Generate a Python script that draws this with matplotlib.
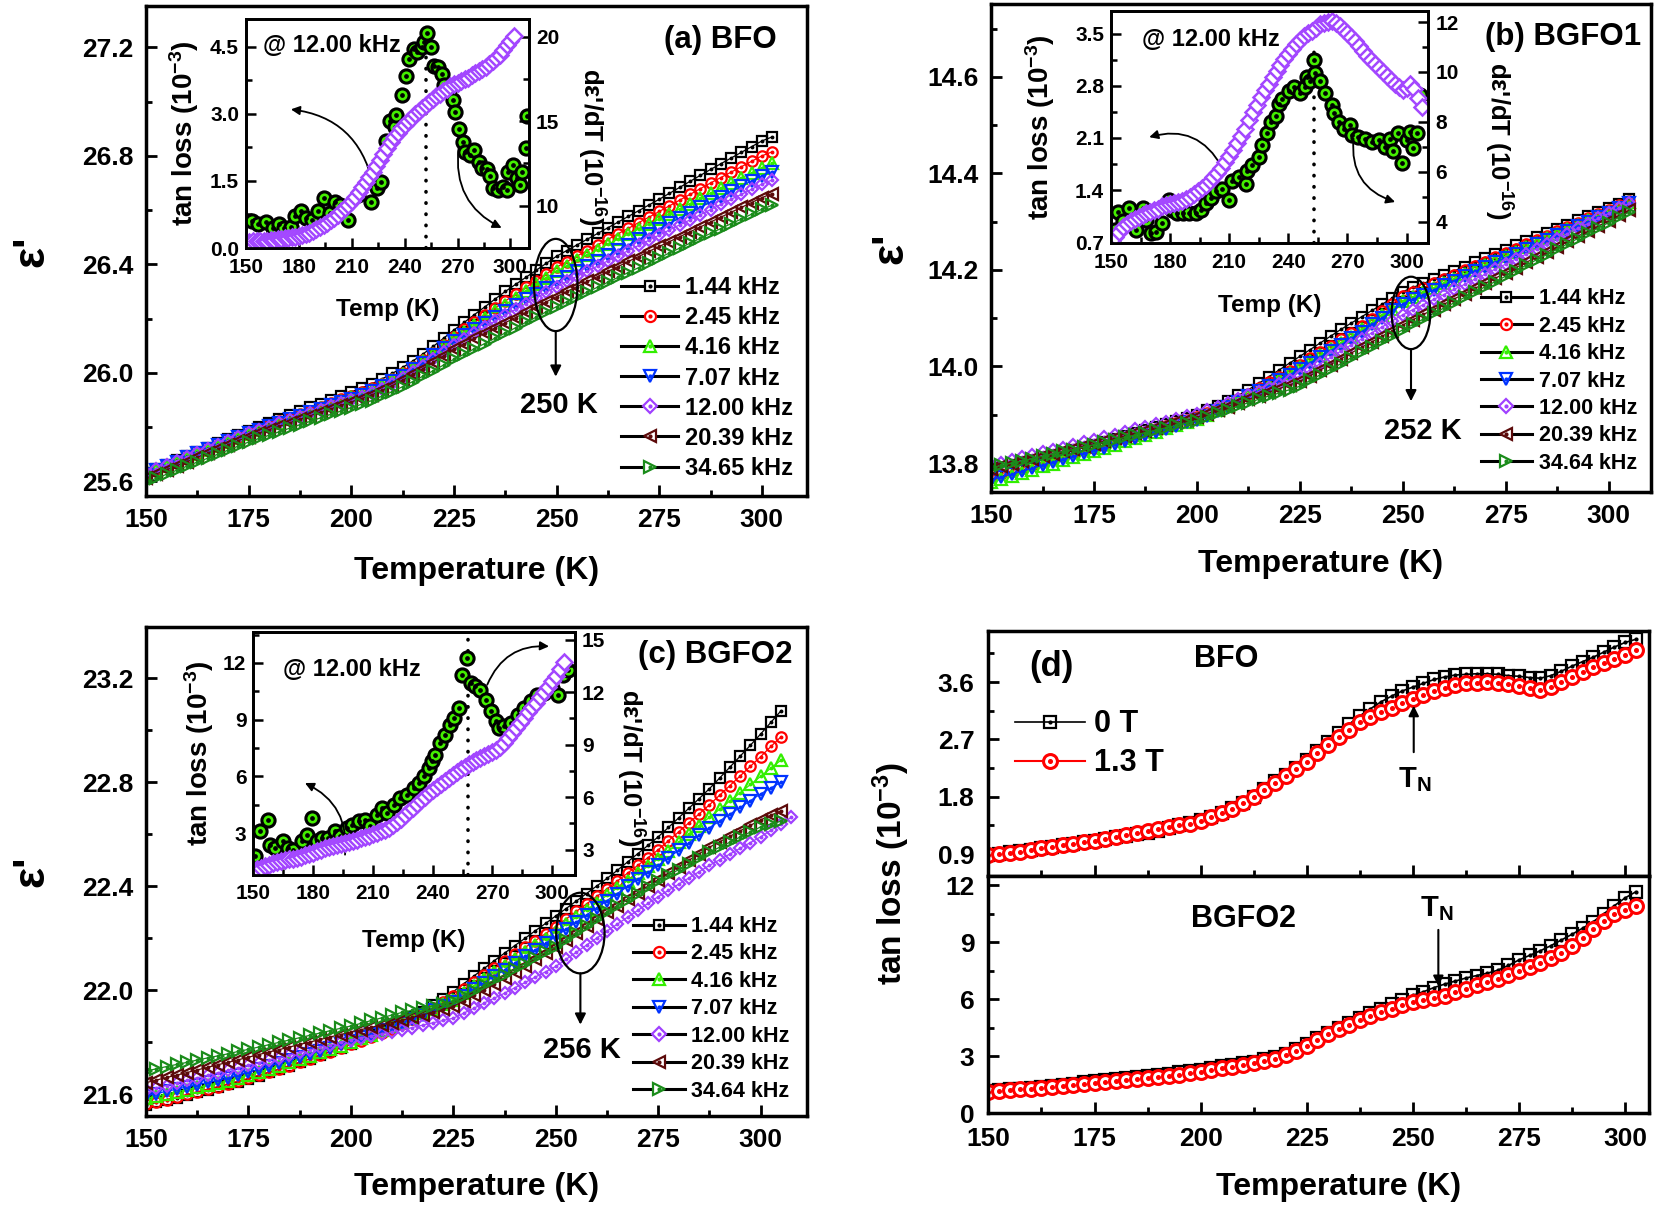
import numpy as np
import matplotlib
matplotlib.use('Agg')
import matplotlib.pyplot as plt
from matplotlib.patches import Ellipse
from matplotlib.lines import Line2D
from matplotlib.ticker import MultipleLocator, FormatStrFormatter

plt.rcParams['font.family'] = ['Liberation Sans', 'DejaVu Sans']
plt.rcParams['font.weight'] = 'bold'
plt.rcParams['axes.labelweight'] = 'bold'
plt.rcParams['mathtext.fontset'] = 'custom'
plt.rcParams['mathtext.rm'] = 'Liberation Sans:bold'
plt.rcParams['mathtext.bf'] = 'Liberation Sans:bold'
plt.rcParams['mathtext.it'] = 'Liberation Sans:bold:italic'
plt.rcParams['mathtext.default'] = 'bf'

# ---------------- data ----------------
labels_a = ['1.44 kHz', '2.45 kHz', '4.16 kHz', '7.07 kHz', '12.00 kHz', '20.39 kHz', '34.65 kHz']
labels_bc = ['1.44 kHz', '2.45 kHz', '4.16 kHz', '7.07 kHz', '12.00 kHz', '20.39 kHz', '34.64 kHz']

temps_a = np.arange(150, 303, 2.5)
temps_b = np.arange(150, 305.1, 2.5)
temps_c = np.arange(150, 305.1, 2.5)
temps_c_12k = np.arange(150, 307.6, 2.5)
temps_d = np.arange(150, 303, 2.5)

# (a) BFO, eps' vs T
eps_a_144 = [25.630, 25.646, 25.662, 25.677, 25.693, 25.709, 25.724, 25.740, 25.756, 25.771,
             25.787, 25.801, 25.816, 25.830, 25.844, 25.859, 25.873, 25.887, 25.901, 25.916,
             25.930, 25.944, 25.960, 25.978, 25.998, 26.020, 26.044, 26.070, 26.098, 26.128,
             26.158, 26.186, 26.215, 26.243, 26.272, 26.300, 26.326, 26.352, 26.378, 26.404,
             26.430, 26.451, 26.472, 26.493, 26.514, 26.535, 26.556, 26.577, 26.598, 26.619,
             26.640, 26.662, 26.684, 26.706, 26.728, 26.750, 26.771, 26.792, 26.813, 26.834,
             26.855, 26.870]
eps_a_245 = [25.628, 25.643, 25.658, 25.674, 25.689, 25.704, 25.719, 25.734, 25.750, 25.765,
             25.780, 25.794, 25.807, 25.821, 25.834, 25.848, 25.861, 25.875, 25.888, 25.902,
             25.915, 25.928, 25.943, 25.960, 25.979, 26.000, 26.023, 26.048, 26.075, 26.104,
             26.134, 26.160, 26.186, 26.213, 26.239, 26.265, 26.290, 26.315, 26.340, 26.365,
             26.390, 26.410, 26.431, 26.451, 26.472, 26.492, 26.513, 26.533, 26.554, 26.574,
             26.595, 26.616, 26.637, 26.658, 26.679, 26.700, 26.720, 26.740, 26.760, 26.780,
             26.800, 26.815]
eps_a_416 = [25.625, 25.640, 25.655, 25.670, 25.685, 25.701, 25.716, 25.731, 25.746, 25.761,
             25.776, 25.789, 25.803, 25.816, 25.830, 25.843, 25.856, 25.870, 25.883, 25.897,
             25.910, 25.923, 25.938, 25.955, 25.974, 25.995, 26.018, 26.043, 26.070, 26.098,
             26.127, 26.152, 26.177, 26.202, 26.227, 26.252, 26.277, 26.301, 26.326, 26.350,
             26.375, 26.395, 26.415, 26.434, 26.454, 26.474, 26.493, 26.511, 26.530, 26.548,
             26.567, 26.586, 26.605, 26.624, 26.643, 26.662, 26.681, 26.700, 26.719, 26.738,
             26.757, 26.772]
eps_a_707 = [25.628, 25.643, 25.658, 25.673, 25.688, 25.703, 25.718, 25.733, 25.748, 25.763,
             25.778, 25.791, 25.803, 25.816, 25.829, 25.842, 25.854, 25.867, 25.880, 25.892,
             25.905, 25.918, 25.933, 25.950, 25.969, 25.990, 26.013, 26.038, 26.064, 26.091,
             26.118, 26.140, 26.162, 26.184, 26.206, 26.228, 26.249, 26.271, 26.292, 26.314,
             26.335, 26.355, 26.374, 26.394, 26.413, 26.433, 26.453, 26.472, 26.492, 26.511,
             26.531, 26.551, 26.571, 26.591, 26.610, 26.630, 26.649, 26.669, 26.688, 26.708,
             26.727, 26.742]
eps_a_1200 = [25.630, 25.645, 25.660, 25.674, 25.689, 25.704, 25.719, 25.734, 25.748, 25.763,
              25.778, 25.790, 25.802, 25.815, 25.827, 25.839, 25.851, 25.863, 25.876, 25.888,
              25.900, 25.912, 25.926, 25.942, 25.960, 25.980, 26.002, 26.026, 26.051, 26.077,
              26.104, 26.126, 26.148, 26.169, 26.191, 26.213, 26.234, 26.255, 26.276, 26.297,
              26.318, 26.337, 26.356, 26.375, 26.394, 26.413, 26.432, 26.451, 26.470, 26.489,
              26.508, 26.527, 26.546, 26.564, 26.583, 26.602, 26.621, 26.640, 26.658, 26.677,
              26.696, 26.711]
eps_a_2039 = [25.612, 25.627, 25.643, 25.658, 25.673, 25.689, 25.704, 25.719, 25.734, 25.750,
              25.765, 25.778, 25.791, 25.803, 25.816, 25.829, 25.842, 25.855, 25.867, 25.880,
              25.893, 25.905, 25.919, 25.935, 25.953, 25.973, 25.994, 26.016, 26.039, 26.063,
              26.088, 26.107, 26.127, 26.146, 26.166, 26.185, 26.204, 26.223, 26.243, 26.262,
              26.281, 26.300, 26.318, 26.337, 26.355, 26.374, 26.392, 26.411, 26.429, 26.448,
              26.466, 26.484, 26.502, 26.520, 26.538, 26.556, 26.574, 26.592, 26.610, 26.628,
              26.646, 26.661]
eps_a_3465 = [25.596, 25.611, 25.626, 25.641, 25.656, 25.671, 25.685, 25.700, 25.715, 25.730,
              25.745, 25.758, 25.770, 25.783, 25.796, 25.809, 25.821, 25.834, 25.847, 25.859,
              25.872, 25.884, 25.898, 25.914, 25.931, 25.949, 25.968, 25.988, 26.008, 26.029,
              26.050, 26.069, 26.089, 26.108, 26.128, 26.147, 26.166, 26.186, 26.205, 26.225,
              26.244, 26.262, 26.280, 26.298, 26.316, 26.334, 26.352, 26.370, 26.388, 26.406,
              26.424, 26.442, 26.460, 26.478, 26.496, 26.514, 26.532, 26.550, 26.567, 26.585,
              26.603, 26.618]

# (b) BGFO1
eps_b_144 = [13.778, 13.784, 13.790, 13.796, 13.802, 13.808, 13.814, 13.820, 13.826, 13.832,
             13.838, 13.844, 13.850, 13.856, 13.862, 13.869, 13.875, 13.881, 13.887, 13.894,
             13.900, 13.909, 13.919, 13.929, 13.940, 13.952, 13.965, 13.979, 13.993, 14.007,
             14.021, 14.035, 14.049, 14.063, 14.077, 14.090, 14.103, 14.116, 14.129, 14.142,
             14.155, 14.164, 14.172, 14.181, 14.189, 14.198, 14.207, 14.216, 14.224, 14.233,
             14.242, 14.251, 14.259, 14.268, 14.276, 14.285, 14.294, 14.303, 14.311, 14.320,
             14.329, 14.337, 14.346]
eps_b_245 = [13.772, 13.778, 13.784, 13.790, 13.796, 13.802, 13.808, 13.814, 13.820, 13.826,
             13.832, 13.838, 13.845, 13.851, 13.857, 13.864, 13.870, 13.876, 13.882, 13.889,
             13.895, 13.903, 13.912, 13.922, 13.932, 13.943, 13.955, 13.967, 13.979, 13.991,
             14.004, 14.017, 14.030, 14.043, 14.056, 14.069, 14.084, 14.099, 14.114, 14.130,
             14.145, 14.154, 14.163, 14.172, 14.181, 14.190, 14.199, 14.208, 14.217, 14.226,
             14.235, 14.244, 14.253, 14.262, 14.271, 14.280, 14.289, 14.298, 14.307, 14.316,
             14.325, 14.334, 14.343]
eps_b_416 = [13.760, 13.767, 13.773, 13.780, 13.786, 13.793, 13.799, 13.806, 13.812, 13.819,
             13.825, 13.832, 13.838, 13.845, 13.852, 13.858, 13.865, 13.872, 13.878, 13.885,
             13.892, 13.900, 13.909, 13.919, 13.929, 13.940, 13.951, 13.962, 13.974, 13.986,
             13.998, 14.011, 14.023, 14.036, 14.049, 14.062, 14.077, 14.091, 14.106, 14.120,
             14.135, 14.144, 14.154, 14.163, 14.173, 14.182, 14.191, 14.200, 14.210, 14.219,
             14.228, 14.237, 14.247, 14.256, 14.266, 14.275, 14.284, 14.293, 14.303, 14.312,
             14.321, 14.331, 14.340]
eps_b_707 = [13.765, 13.771, 13.777, 13.783, 13.789, 13.796, 13.802, 13.808, 13.814, 13.820,
             13.826, 13.832, 13.839, 13.845, 13.852, 13.858, 13.864, 13.871, 13.877, 13.884,
             13.890, 13.898, 13.907, 13.917, 13.927, 13.938, 13.949, 13.960, 13.972, 13.983,
             13.995, 14.008, 14.020, 14.033, 14.045, 14.058, 14.072, 14.087, 14.101, 14.116,
             14.130, 14.140, 14.149, 14.159, 14.168, 14.178, 14.187, 14.197, 14.206, 14.216,
             14.225, 14.234, 14.244, 14.253, 14.263, 14.272, 14.281, 14.291, 14.300, 14.310,
             14.319, 14.329, 14.338]
eps_b_1200 = [13.796, 13.801, 13.806, 13.812, 13.817, 13.822, 13.827, 13.832, 13.838, 13.843,
              13.848, 13.853, 13.859, 13.864, 13.870, 13.875, 13.880, 13.886, 13.891, 13.897,
              13.902, 13.909, 13.917, 13.924, 13.932, 13.940, 13.948, 13.956, 13.964, 13.972,
              13.980, 13.993, 14.006, 14.019, 14.032, 14.045, 14.057, 14.070, 14.082, 14.095,
              14.107, 14.118, 14.128, 14.139, 14.149, 14.160, 14.170, 14.181, 14.191, 14.202,
              14.212, 14.223, 14.233, 14.244, 14.254, 14.265, 14.275, 14.286, 14.296, 14.307,
              14.317, 14.328, 14.338]
eps_b_2039 = [13.788, 13.793, 13.798, 13.804, 13.809, 13.814, 13.819, 13.824, 13.830, 13.835,
              13.840, 13.845, 13.851, 13.856, 13.862, 13.867, 13.873, 13.878, 13.884, 13.889,
              13.895, 13.902, 13.910, 13.917, 13.925, 13.932, 13.939, 13.947, 13.954, 13.962,
              13.969, 13.981, 13.993, 14.004, 14.016, 14.028, 14.040, 14.051, 14.063, 14.074,
              14.086, 14.097, 14.108, 14.118, 14.129, 14.140, 14.151, 14.162, 14.172, 14.183,
              14.194, 14.205, 14.216, 14.226, 14.237, 14.248, 14.259, 14.270, 14.280, 14.291,
              14.302, 14.313, 14.324]
eps_b_3464 = [13.790, 13.795, 13.800, 13.804, 13.809, 13.814, 13.819, 13.824, 13.828, 13.833,
              13.838, 13.843, 13.848, 13.853, 13.858, 13.863, 13.868, 13.873, 13.878, 13.883,
              13.888, 13.895, 13.903, 13.910, 13.918, 13.925, 13.932, 13.939, 13.945, 13.952,
              13.959, 13.971, 13.983, 13.994, 14.006, 14.018, 14.030, 14.041, 14.053, 14.064,
              14.076, 14.087, 14.098, 14.110, 14.121, 14.132, 14.143, 14.154, 14.165, 14.176,
              14.187, 14.198, 14.210, 14.221, 14.232, 14.243, 14.254, 14.265, 14.276, 14.287,
              14.298, 14.309, 14.320]

# (c) BGFO2
eps_c_144 = [21.560, 21.569, 21.578, 21.588, 21.598, 21.608, 21.618, 21.628, 21.639, 21.649,
             21.660, 21.672, 21.685, 21.697, 21.710, 21.723, 21.737, 21.751, 21.765, 21.780,
             21.795, 21.811, 21.827, 21.843, 21.860, 21.878, 21.898, 21.918, 21.942, 21.968,
             21.995, 22.025, 22.055, 22.084, 22.114, 22.143, 22.172, 22.200, 22.229, 22.257,
             22.286, 22.314, 22.343, 22.372, 22.401, 22.430, 22.461, 22.493, 22.525, 22.557,
             22.590, 22.626, 22.663, 22.700, 22.737, 22.775, 22.816, 22.858, 22.900, 22.942,
             22.985, 23.030, 23.075]
eps_c_245 = [21.562, 21.571, 21.580, 21.590, 21.600, 21.610, 21.620, 21.630, 21.641, 21.651,
             21.662, 21.674, 21.686, 21.698, 21.711, 21.724, 21.737, 21.750, 21.764, 21.778,
             21.792, 21.806, 21.821, 21.837, 21.853, 21.870, 21.889, 21.909, 21.931, 21.954,
             21.978, 22.005, 22.031, 22.058, 22.085, 22.111, 22.138, 22.165, 22.191, 22.218,
             22.245, 22.274, 22.303, 22.332, 22.361, 22.390, 22.420, 22.450, 22.480, 22.510,
             22.540, 22.575, 22.609, 22.644, 22.678, 22.713, 22.750, 22.787, 22.824, 22.861,
             22.898, 22.937, 22.975]
eps_c_416 = [21.585, 21.593, 21.601, 21.610, 21.618, 21.627, 21.635, 21.644, 21.652, 21.664,
             21.675, 21.686, 21.698, 21.710, 21.723, 21.735, 21.748, 21.761, 21.774, 21.787,
             21.800, 21.815, 21.830, 21.846, 21.862, 21.878, 21.895, 21.911, 21.928, 21.946,
             21.964, 21.990, 22.016, 22.042, 22.069, 22.095, 22.121, 22.147, 22.173, 22.199,
             22.225, 22.253, 22.281, 22.309, 22.337, 22.365, 22.393, 22.421, 22.449, 22.477,
             22.505, 22.537, 22.569, 22.601, 22.633, 22.665, 22.696, 22.728, 22.759, 22.791,
             22.822, 22.854, 22.885]
eps_c_707 = [21.595, 21.603, 21.612, 21.620, 21.629, 21.637, 21.646, 21.654, 21.663, 21.674,
             21.685, 21.696, 21.708, 21.720, 21.732, 21.744, 21.756, 21.768, 21.780, 21.793,
             21.805, 21.819, 21.833, 21.847, 21.861, 21.875, 21.891, 21.907, 21.923, 21.939,
             21.955, 21.980, 22.005, 22.029, 22.054, 22.079, 22.105, 22.130, 22.156, 22.181,
             22.207, 22.235, 22.262, 22.290, 22.317, 22.345, 22.372, 22.399, 22.426, 22.453,
             22.480, 22.509, 22.538, 22.567, 22.596, 22.625, 22.651, 22.677, 22.703, 22.729,
             22.755, 22.778, 22.800]
eps_c_1200 = [21.615, 21.625, 21.634, 21.644, 21.654, 21.664, 21.673, 21.683, 21.693, 21.702,
              21.712, 21.722, 21.732, 21.741, 21.751, 21.761, 21.771, 21.781, 21.790, 21.800,
              21.810, 21.818, 21.825, 21.833, 21.840, 21.848, 21.857, 21.866, 21.875, 21.884,
              21.893, 21.912, 21.931, 21.951, 21.970, 21.989, 22.010, 22.030, 22.051, 22.071,
              22.092, 22.119, 22.146, 22.174, 22.201, 22.228, 22.254, 22.281, 22.307, 22.334,
              22.360, 22.384, 22.408, 22.432, 22.456, 22.480, 22.502, 22.524, 22.546, 22.568,
              22.590, 22.615, 22.640, 22.665]
eps_c_2039 = [21.645, 21.655, 21.665, 21.674, 21.684, 21.694, 21.704, 21.714, 21.723, 21.733,
              21.743, 21.753, 21.763, 21.772, 21.782, 21.792, 21.801, 21.811, 21.821, 21.830,
              21.840, 21.849, 21.858, 21.867, 21.876, 21.885, 21.896, 21.906, 21.917, 21.927,
              21.938, 21.960, 21.982, 22.003, 22.025, 22.047, 22.071, 22.095, 22.120, 22.144,
              22.168, 22.194, 22.221, 22.247, 22.274, 22.300, 22.325, 22.350, 22.375, 22.400,
              22.425, 22.450, 22.475, 22.500, 22.525, 22.550, 22.571, 22.592, 22.613, 22.634,
              22.655, 22.673, 22.690]
eps_c_3464 = [21.690, 21.698, 21.707, 21.715, 21.723, 21.732, 21.740, 21.748, 21.756, 21.765,
              21.773, 21.782, 21.791, 21.800, 21.809, 21.818, 21.827, 21.836, 21.845, 21.854,
              21.863, 21.873, 21.884, 21.894, 21.905, 21.915, 21.923, 21.932, 21.940, 21.949,
              21.957, 21.978, 21.998, 22.019, 22.039, 22.060, 22.082, 22.103, 22.125, 22.146,
              22.168, 22.194, 22.221, 22.247, 22.274, 22.300, 22.324, 22.348, 22.372, 22.396,
              22.420, 22.442, 22.464, 22.486, 22.508, 22.530, 22.550, 22.569, 22.589, 22.608,
              22.628, 22.639, 22.650]

# insets @ 12.00 kHz : tan loss (left axis) and d eps'/dT (right axis)
ins_a_tan_T = [153.4, 157.1, 161.3, 165.6, 168.8, 171.8, 175.5, 177.8, 181.1, 184.3,
               187.5, 190.9, 194.3, 197.5, 200.7, 203.1, 207.8, 213.4, 220.9, 224.3,
               226.5, 229.4, 231.8, 234.4, 235.0, 238.7, 240.6, 242.5, 245.3, 247.2,
               250.0, 250.9, 252.4, 254.7, 256.6, 258.8, 261.3, 262.6, 265.0, 267.4,
               268.8, 270.6, 273.1, 274.4, 277.2, 279.1, 281.9, 283.8, 286.6, 288.5,
               290.3, 293.2, 296.0, 297.8, 298.8, 301.6, 303.5, 305.3, 306.3, 308.7, 309.5]
ins_a_tan = [0.61, 0.53, 0.58, 0.45, 0.53, 0.45, 0.48, 0.71, 0.82, 0.68,
             0.63, 0.82, 1.11, 0.78, 1.02, 0.97, 0.63, 1.19, 1.04, 1.34,
             1.48, 2.39, 2.84, 2.71, 2.97, 3.42, 3.84, 4.23, 4.45, 4.38,
             4.49, 4.60, 4.81, 4.49, 4.08, 4.05, 3.90, 3.64, 3.53, 3.30,
             3.04, 2.67, 2.38, 2.14, 2.08, 2.19, 1.93, 1.78, 1.77, 1.60,
             1.34, 1.30, 1.37, 1.30, 1.71, 1.86, 1.56, 1.41, 1.71, 2.24, 2.95]
ins_a_der_T = np.arange(150, 303, 2)
ins_a_der = [7.88, 7.88, 7.89, 7.90, 7.91, 7.92, 7.94, 7.96, 7.98, 8.01,
             8.04, 8.07, 8.10, 8.13, 8.16, 8.19, 8.25, 8.32, 8.40, 8.50,
             8.62, 8.74, 8.86, 8.99, 9.14, 9.30, 9.48, 9.67, 9.86, 10.06,
             10.27, 10.53, 10.80, 11.10, 11.40, 11.70, 12.00, 12.35, 12.70, 13.05,
             13.40, 13.75, 14.05, 14.33, 14.58, 14.80, 15.00, 15.20, 15.40, 15.60,
             15.80, 15.98, 16.15, 16.32, 16.48, 16.63, 16.78, 16.93, 17.06, 17.17,
             17.28, 17.38, 17.48, 17.58, 17.70, 17.83, 17.96, 18.10, 18.23, 18.38,
             18.55, 18.74, 18.94, 19.20, 19.48, 19.75, 20.05]

ins_b_tan_T = [152.2, 153.4, 155.9, 159.3, 162.6, 166.0, 167.7, 170.2, 172.8, 176.1,
               179.5, 181.2, 183.7, 186.3, 189.6, 193.0, 195.5, 198.1, 200.6, 203.1,
               206.5, 209.9, 211.6, 215.0, 218.3, 219.1, 221.7, 225.0, 226.7, 229.3,
               231.0, 233.5, 235.2, 236.8, 240.2, 242.7, 246.1, 248.6, 249.5, 251.2,
               252.9, 253.7, 256.2, 258.8, 262.1, 263.0, 265.5, 268.0, 271.4, 272.3,
               275.6, 279.0, 282.4, 285.8, 289.1, 291.7, 293.3, 295.9, 297.5, 300.1,
               301.8, 303.5, 305.1, 306.8]
ins_b_tan = [0.87, 1.11, 0.98, 1.16, 0.87, 1.16, 1.00, 0.82, 0.84, 0.96,
             1.26, 1.13, 1.09, 1.09, 1.09, 1.09, 1.13, 1.22, 1.30, 1.39,
             1.41, 1.26, 1.52, 1.57, 1.48, 1.65, 1.74, 1.85, 2.00, 2.16,
             2.31, 2.40, 2.55, 2.62, 2.73, 2.79, 2.70, 2.79, 2.92, 2.86,
             3.14, 2.97, 2.86, 2.70, 2.54, 2.44, 2.31, 2.22, 2.28, 2.14,
             2.11, 2.09, 2.05, 2.07, 1.98, 2.09, 1.92, 2.16, 1.76, 2.07,
             2.18, 1.96, 2.16, 2.67]
ins_b_der_T = np.arange(150, 309, 2)
ins_b_der = [3.15, 3.40, 3.60, 3.78, 3.92, 4.03, 4.12, 4.21, 4.28, 4.35,
             4.41, 4.46, 4.53, 4.62, 4.69, 4.72, 4.75, 4.79, 4.83, 4.90,
             5.01, 5.13, 5.24, 5.36, 5.48, 5.62, 5.78, 5.96, 6.16, 6.39,
             6.63, 6.88, 7.15, 7.43, 7.72, 8.06, 8.38, 8.69, 8.98, 9.26,
             9.52, 9.78, 10.02, 10.26, 10.50, 10.72, 10.92, 11.12, 11.28, 11.42,
             11.54, 11.64, 11.78, 11.91, 11.98, 12.02, 12.03, 11.96, 11.84, 11.70,
             11.55, 11.39, 11.23, 11.03, 10.83, 10.63, 10.46, 10.30, 10.14, 9.98,
             9.82, 9.66, 9.50, 9.38, 9.28, 9.35, 9.52, 9.30, 8.96, 8.60]

ins_c_tan_T = [150.7, 153.2, 157.4, 158.3, 160.8, 165.0, 167.5, 170.0, 174.2, 176.7,
               179.3, 181.8, 184.3, 187.7, 191.0, 193.5, 196.9, 199.4, 202.8, 206.1,
               208.6, 212.0, 214.5, 217.0, 220.4, 223.7, 227.1, 230.4, 233.0, 235.5,
               238.0, 239.7, 241.4, 243.9, 246.4, 248.9, 250.6, 253.1, 254.8, 257.3,
               259.0, 261.5, 264.0, 266.6, 269.1, 271.6, 273.3, 275.8, 279.2, 282.6,
               285.9, 289.3, 292.6, 296.0, 300.1, 302.7, 305.2, 307.7]
ins_c_tan = [1.77, 3.09, 3.71, 2.39, 2.21, 2.56, 2.21, 2.12, 2.56, 2.92,
             3.80, 2.56, 2.74, 2.74, 3.09, 2.83, 3.27, 3.45, 3.62, 3.71,
             3.36, 3.98, 4.33, 4.06, 4.50, 4.86, 5.03, 5.39, 5.65, 6.00,
             6.44, 6.80, 7.15, 7.77, 8.21, 8.74, 9.09, 9.62, 11.38, 12.26,
             10.94, 10.77, 10.59, 10.06, 9.44, 8.91, 8.56, 8.65, 8.82, 9.27,
             9.62, 9.97, 10.32, 10.41, 10.68, 10.32, 11.38, 11.65]
ins_c_der_T = np.arange(150, 307, 2)
ins_c_der = [1.78, 1.88, 1.97, 2.05, 2.13, 2.22, 2.31, 2.36, 2.40, 2.44,
             2.48, 2.53, 2.60, 2.68, 2.75, 2.83, 2.91, 2.99, 3.07, 3.15,
             3.22, 3.29, 3.35, 3.40, 3.46, 3.52, 3.58, 3.65, 3.72, 3.79,
             3.87, 3.95, 4.04, 4.14, 4.26, 4.40, 4.58, 4.78, 4.98, 5.19,
             5.40, 5.61, 5.82, 6.02, 6.23, 6.42, 6.60, 6.76, 6.93, 7.10,
             7.28, 7.46, 7.60, 7.74, 7.88, 8.01, 8.12, 8.23, 8.34, 8.45,
             8.56, 8.70, 8.88, 9.10, 9.38, 9.68, 9.98, 10.26, 10.55, 10.84,
             11.13, 11.41, 11.70, 12.00, 12.30, 12.62, 12.95, 13.35, 13.70]

# (d) tan loss with field
tan_bfo_0T = [0.89, 0.91, 0.93, 0.95, 0.97, 0.99, 1.02, 1.04, 1.06, 1.09,
              1.11, 1.14, 1.17, 1.19, 1.22, 1.24, 1.27, 1.31, 1.35, 1.39,
              1.43, 1.49, 1.55, 1.62, 1.70, 1.80, 1.92, 2.04, 2.14, 2.25,
              2.38, 2.52, 2.66, 2.80, 2.94, 3.07, 3.18, 3.29, 3.38, 3.46,
              3.52, 3.58, 3.64, 3.68, 3.71, 3.72, 3.73, 3.73, 3.72, 3.70,
              3.69, 3.67, 3.66, 3.70, 3.77, 3.85, 3.92, 3.99, 4.07, 4.15,
              4.22, 4.27]
tan_bfo_13T = [0.88, 0.90, 0.92, 0.94, 0.97, 0.99, 1.02, 1.04, 1.06, 1.09,
               1.11, 1.14, 1.17, 1.20, 1.23, 1.26, 1.29, 1.32, 1.35, 1.38,
               1.42, 1.48, 1.54, 1.61, 1.70, 1.79, 1.90, 2.01, 2.12, 2.23,
               2.35, 2.48, 2.62, 2.74, 2.85, 2.97, 3.05, 3.13, 3.20, 3.27,
               3.34, 3.40, 3.46, 3.51, 3.55, 3.58, 3.59, 3.60, 3.59, 3.57,
               3.54, 3.50, 3.48, 3.52, 3.60, 3.68, 3.76, 3.83, 3.90, 3.96,
               4.02, 4.10]
tan_bgfo2_0T = [1.20, 1.24, 1.27, 1.31, 1.34, 1.39, 1.45, 1.51, 1.57, 1.63,
                1.69, 1.75, 1.81, 1.86, 1.91, 1.96, 2.03, 2.09, 2.16, 2.23,
                2.31, 2.39, 2.47, 2.55, 2.63, 2.72, 2.84, 2.97, 3.15, 3.38,
                3.66, 3.98, 4.25, 4.50, 4.75, 5.00, 5.26, 5.51, 5.73, 5.96,
                6.21, 6.40, 6.62, 6.80, 6.96, 7.12, 7.25, 7.37, 7.53, 7.78,
                8.07, 8.31, 8.55, 8.82, 9.12, 9.42, 9.74, 10.08, 10.50, 10.93,
                11.33, 11.65]
tan_bgfo2_13T = [1.15, 1.19, 1.23, 1.27, 1.31, 1.36, 1.41, 1.46, 1.51, 1.55,
                 1.59, 1.64, 1.69, 1.75, 1.81, 1.87, 1.93, 1.98, 2.04, 2.12,
                 2.20, 2.28, 2.37, 2.46, 2.55, 2.63, 2.74, 2.88, 3.06, 3.28,
                 3.55, 3.87, 4.16, 4.42, 4.66, 4.90, 5.12, 5.32, 5.50, 5.68,
                 5.84, 5.96, 6.05, 6.20, 6.38, 6.56, 6.73, 6.90, 7.08, 7.27,
                 7.47, 7.68, 7.90, 8.16, 8.45, 8.80, 9.22, 9.68, 10.10, 10.48,
                 10.72, 10.90]

# ---------------- styles ----------------
colors = ['black', '#ff0000', '#33ee00', '#0033ff', '#a040ff', '#5c0a0a', '#1a8c1a']
markers = ['s', 'o', '^', 'v', 'D', '<', '>']
msizes = [7.0, 7.5, 8.0, 8.0, 6.5, 8.0, 8.0]
purple = '#a347ff'
lime = '#44ee00'

fig = plt.figure(figsize=(16.54, 12.10), dpi=100)


def ticks(ax, xmaj, xmin, ymaj, ymin, size, pad, lmaj=8, lmin=4.5, w=2.0):
    ax.xaxis.set_major_locator(MultipleLocator(xmaj))
    ax.xaxis.set_minor_locator(MultipleLocator(xmin))
    ax.yaxis.set_major_locator(MultipleLocator(ymaj))
    ax.yaxis.set_minor_locator(MultipleLocator(ymin))
    ax.tick_params(which='both', direction='in', width=w, labelsize=size, pad=pad)
    ax.tick_params(which='major', length=lmaj)
    ax.tick_params(which='minor', length=lmin)


def frame(ax, lw):
    for s in ax.spines.values():
        s.set_linewidth(lw)


def main_panel(rect, temps, series, labels, xlim, ylim, ymaj, fmt, tag, tag_xy,
               leg_size, leg_anchor, ylab_x, xlab_y):
    ax = fig.add_axes(rect)
    handles = []
    for t, vals, c, m, s in zip(temps, series, colors, markers, msizes):
        ax.plot(t, vals, color=c, lw=0.9, marker=m, ms=s, mfc='none', mec=c, mew=1.6)
        ax.plot(t, vals, ls='none', marker='o', ms=1.8, color=c)
        handles.append((Line2D([], [], color='k', lw=2.2, marker=m, ms=s + 0.5, mfc='white', mec=c, mew=1.6),
                        Line2D([], [], ls='none', marker='o', ms=2, color=c)))
    ax.legend(handles, labels, loc='lower right', bbox_to_anchor=leg_anchor, frameon=False,
              fontsize=leg_size, handlelength=2.4, handletextpad=0.3, labelspacing=0.3,
              borderaxespad=0, borderpad=0)
    ax.set_xlim(*xlim)
    ax.set_ylim(*ylim)
    ticks(ax, 25, 12.5, ymaj, ymaj / 2, 19, 9)
    ax.yaxis.set_major_formatter(FormatStrFormatter(fmt))
    frame(ax, 2.5)
    ax.set_xlabel('Temperature (K)', fontsize=23)
    ax.xaxis.set_label_coords(0.5, xlab_y)
    ax.xaxis.label.set_va('center')
    ax.set_ylabel("ε'", fontsize=32)
    ax.yaxis.set_label_coords(ylab_x, 0.5)
    ax.yaxis.label.set_va('center')
    ax.text(tag_xy[0], tag_xy[1], tag, transform=ax.transAxes, ha='right', va='center', fontsize=22.5)
    return ax


def mark_tn(ax, center, w, h, y_from, y_to, txt, txt_xy):
    ax.add_patch(Ellipse(center, w, h, fill=False, ec='k', lw=1.6, zorder=10))
    ax.annotate('', xy=(center[0], y_to), xytext=(center[0], y_from),
                arrowprops=dict(arrowstyle='-|>', color='k', lw=1.5, mutation_scale=16,
                                shrinkA=0, shrinkB=0), zorder=10)
    ax.text(txt_xy[0], txt_xy[1], txt, ha='center', va='center', fontsize=21, zorder=10)


def inset(rect, tan_T, tan_v, der_T, der_v, xlim, yl, yr, yl_maj, yr_maj, fmt_l,
          vline, arrows, lab_x, lab_r, txt_xy):
    ai = fig.add_axes(rect)
    ai.set_facecolor('white')
    ai.plot([vline[0], vline[0]], [vline[1], vline[2]], color='k', lw=2.6,
            ls=(0, (0.1, 3.0)), dash_capstyle='round', zorder=1)
    ai.plot(tan_T, tan_v, ls='none', marker='o', ms=9.5, mfc=lime, mec='black', mew=2.2, zorder=3)
    ai.plot(tan_T, tan_v, ls='none', marker='o', ms=2.4, color='black', zorder=4)
    for start, end, rad in arrows:
        ai.annotate('', xy=end, xytext=start,
                    arrowprops=dict(arrowstyle='-|>', color='k', lw=1.3, mutation_scale=13,
                                    connectionstyle='arc3,rad=%s' % rad, shrinkA=0, shrinkB=0))
    ai.set_xlim(*xlim)
    ai.set_ylim(*yl)
    ticks(ai, 30, 15, yl_maj, yl_maj / 2, 15, 5, lmaj=7, lmin=4, w=1.8)
    ai.tick_params(axis='x', pad=7)
    ai.yaxis.set_major_formatter(FormatStrFormatter(fmt_l))
    ai.tick_params(which='both', top=False, right=False)
    ar = ai.twinx()
    ar.plot(der_T, der_v, ls='none', marker='D', ms=8, mfc='white', mec=purple, mew=1.8)
    ar.set_ylim(*yr)
    ar.yaxis.set_major_locator(MultipleLocator(yr_maj))
    ar.yaxis.set_minor_locator(MultipleLocator(yr_maj / 2))
    ar.tick_params(which='both', direction='in', width=1.8, labelsize=15, pad=5)
    ar.tick_params(which='major', length=7)
    ar.tick_params(which='minor', length=4)
    frame(ai, 2.0)
    frame(ar, 2.0)
    ai.set_xlabel('Temp (K)', fontsize=17.5)
    ai.xaxis.set_label_coords(0.5, -0.27)
    ai.xaxis.label.set_va('center')
    ai.set_ylabel('tan loss (10$^{-3}$)', fontsize=20)
    ai.yaxis.set_label_coords(lab_x, 0.5)
    ai.yaxis.label.set_va('center')
    ar.set_ylabel("dε'/dT (10$^{-16}$)", fontsize=18.5, rotation=270)
    ar.yaxis.set_label_coords(lab_r, 0.44)
    ar.yaxis.label.set_va('center')
    ai.text(txt_xy[0], txt_xy[1], '@ 12.00 kHz', transform=ai.transAxes, ha='left', va='center',
            fontsize=17)
    return ai, ar


# ---------------- (a) BFO ----------------
ax_a = main_panel([0.0883, 0.5901, 0.3996, 0.4050], [temps_a] * 7,
                  [eps_a_144, eps_a_245, eps_a_416, eps_a_707, eps_a_1200, eps_a_2039, eps_a_3465],
                  labels_a, (150, 311), (25.546, 27.353), 0.4, '%.1f', '(a) BFO', (0.955, 0.93),
                  17, (0.979, 0.033), -0.172, -0.153)
mark_tn(ax_a, (249.8, 26.324), 10.6, 0.34, 26.154, 25.986, '250 K', (250.5, 25.882))
inset([0.1487, 0.7950, 0.1711, 0.1893], ins_a_tan_T, ins_a_tan, ins_a_der_T, ins_a_der,
      (150, 310.5), (0, 5.12), (7.5, 21.04), 1.5, 5, '%.1f', (252, 0, 4.3),
      [((221.9, 1.45), (175.5, 3.10), 0.35), ((270.6, 2.23), (295, 0.45), 0.35)],
      -0.22, 1.22, (0.061, 0.886))

# ---------------- (b) BGFO1 ----------------
ax_b = main_panel([0.5992, 0.5934, 0.3990, 0.4033], [temps_b] * 7,
                  [eps_b_144, eps_b_245, eps_b_416, eps_b_707, eps_b_1200, eps_b_2039, eps_b_3464],
                  labels_bc, (150, 310.3), (13.740, 14.751), 0.2, '%.1f', '(b) BGFO1', (0.985, 0.933),
                  15.5, (0.979, 0.037), -0.152, -0.148)
mark_tn(ax_b, (252, 14.111), 9.4, 0.15, 14.036, 13.928, '252 K', (255, 13.867))
inset([0.6717, 0.7992, 0.1918, 0.1915], ins_b_tan_T, ins_b_tan, ins_b_der_T, ins_b_der,
      (150, 311), (0.69, 3.80), (3.16, 12.43), 0.7, 2, '%.1f', (252.9, 0.69, 3.34),
      [((206.5, 1.70), (169.4, 2.11), 0.4), ((273.1, 2.09), (294.2, 1.24), 0.4)],
      -0.225, 1.22, (0.097, 0.877))

# ---------------- (c) BGFO2 ----------------
ax_c = main_panel([0.0883, 0.0777, 0.3996, 0.4045], [temps_c] * 4 + [temps_c_12k] + [temps_c] * 2,
                  [eps_c_144, eps_c_245, eps_c_416, eps_c_707, eps_c_1200, eps_c_2039, eps_c_3464],
                  labels_bc, (150, 311.3), (21.517, 23.398), 0.4, '%.1f', '(c) BGFO2', (0.978, 0.942),
                  15.5, (0.974, 0.029), -0.172, -0.145)
mark_tn(ax_c, (256, 22.22), 11.8, 0.31, 22.065, 21.868, '256 K', (256.4, 21.772))
inset([0.1532, 0.2771, 0.1945, 0.2006], ins_c_tan_T, ins_c_tan, ins_c_der_T, ins_c_der,
      (150, 311.5), (0.8, 13.64), (1.57, 15.44), 3, 3, '%d', (257.5, 0.8, 13.6),
      [((196, 1.86), (175.9, 5.65), 0.35), ((267.4, 10.85), (298.4, 12.88), -0.35)],
      -0.17, 1.17, (0.093, 0.845))

# ---------------- (d) tan loss vs T at 0 T and 1.3 T ----------------
ax_t = fig.add_axes([0.5976, 0.2763, 0.3993, 0.2022])
ax_bt = fig.add_axes([0.5976, 0.0798, 0.3993, 0.1965])
for ax, v0, v1 in [(ax_t, tan_bfo_0T, tan_bfo_13T), (ax_bt, tan_bgfo2_0T, tan_bgfo2_13T)]:
    l0, = ax.plot(temps_d, v0, color='black', lw=1.2, marker='s', ms=8, mfc='none', mec='black', mew=1.6)
    d0, = ax.plot(temps_d, v0, ls='none', marker='o', ms=2, color='black')
    l1, = ax.plot(temps_d, v1, color='#ff0000', lw=1.5, marker='o', ms=10, mfc='white', mec='#ff0000', mew=2.2)
    d1, = ax.plot(temps_d, v1, ls='none', marker='o', ms=2.6, color='#ff0000')
    ax.set_xlim(150, 305.6)
    frame(ax, 2.5)
ax_t.set_ylim(0.563, 4.40)
ax_bt.set_ylim(0, 12.5)
ticks(ax_t, 25, 12.5, 0.9, 0.45, 19, 10)
ticks(ax_bt, 25, 12.5, 3, 1.5, 19, 10)
ax_t.yaxis.set_major_formatter(FormatStrFormatter('%.1f'))
ax_t.tick_params(labelbottom=False)
ax_t.legend([(l0, d0), (l1, d1)], ['0 T', '1.3 T'], loc='upper left', bbox_to_anchor=(0.04, 0.68),
            frameon=False, fontsize=22, handlelength=2.3, handletextpad=0.3, labelspacing=0.3,
            borderaxespad=0, borderpad=0)
ax_t.text(164.9, 3.85, '(d)', ha='center', va='center', fontsize=25)
ax_t.text(206, 3.96, 'BFO', ha='center', va='center', fontsize=22)
ax_t.annotate('', xy=(250.2, 3.23), xytext=(250.2, 2.50),
              arrowprops=dict(arrowstyle='-|>', color='k', lw=1.5, mutation_scale=15, shrinkA=0, shrinkB=0))
ax_t.text(250.5, 2.07, 'T$_{N}$', ha='center', va='center', fontsize=21)
ax_bt.text(210, 10.22, 'BGFO2', ha='center', va='center', fontsize=22)
ax_bt.annotate('', xy=(256, 6.69), xytext=(256, 9.65),
               arrowprops=dict(arrowstyle='-|>', color='k', lw=1.5, mutation_scale=15, shrinkA=0, shrinkB=0))
ax_bt.text(255.5, 10.78, 'T$_{N}$', ha='center', va='center', fontsize=21)
ax_bt.set_xlabel('Temperature (K)', fontsize=23)
ax_bt.xaxis.set_label_coords(0.53, -0.31)
ax_bt.xaxis.label.set_va('center')
fig.text(0.5386, 0.278, 'tan loss (10$^{-3}$)', rotation=90, ha='center', va='center', fontsize=24)

fig.savefig('out.png', dpi=100)
